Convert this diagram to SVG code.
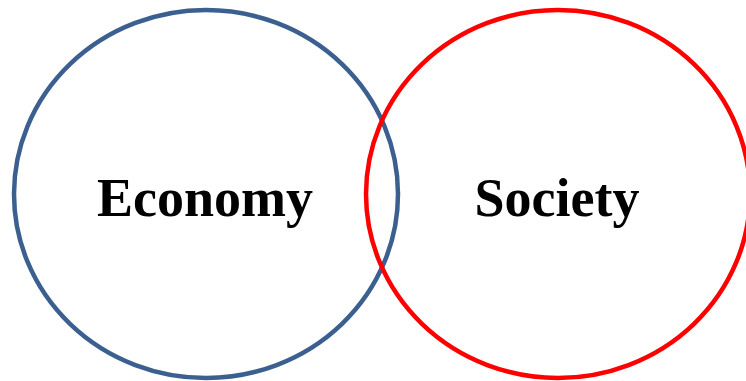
<svg xmlns="http://www.w3.org/2000/svg" width="746" height="381" viewBox="0 0 746 381">
<style>
.c{fill:none;stroke-width:4.5}
.t{font-family:"Liberation Serif","Times New Roman",serif;font-weight:bold;font-size:54px;fill:#000;text-anchor:middle}
</style>
<rect width="746" height="381" fill="#fff"/>
<g id="economy">
<ellipse class="c" cx="206" cy="194" rx="192" ry="184" stroke="#3B5F8E"/>
<text class="t" x="205" y="216">Economy</text>
</g>
<g id="society">
<ellipse class="c" cx="558" cy="194" rx="192" ry="184" stroke="#FF0000"/>
<text class="t" x="557" y="216">Society</text>
</g>
<g id="connectors"></g>
</svg>
